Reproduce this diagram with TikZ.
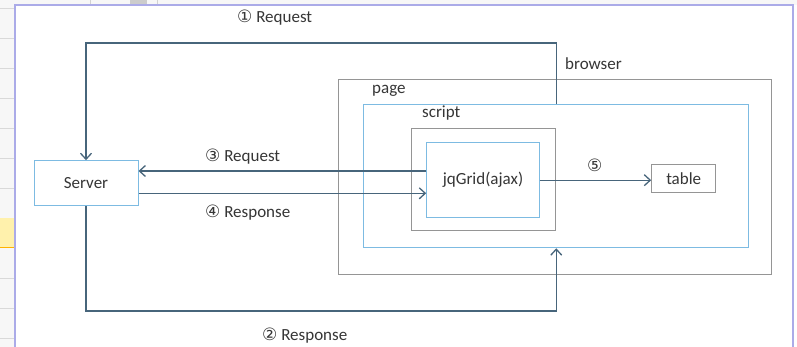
\documentclass[tikz,border=0pt]{standalone}
\usepackage{fontspec}
\setmainfont{Carlito}
\newfontfamily\circfont{DejaVu Sans}
\usetikzlibrary{arrows.meta}
\definecolor{flowcol}{HTML}{47657B}
\definecolor{bluecol}{HTML}{7DBBE2}
\definecolor{graycol}{HTML}{959595}
\definecolor{framecol}{HTML}{ABABE8}
\definecolor{textcol}{HTML}{363636}
\definecolor{sheetcol}{HTML}{F7F7F7}
\definecolor{cellcol}{HTML}{FFF1AC}
\newcommand{\stepnum}[1]{{\circfont\fontsize{17}{17}\selectfont #1}}

\begin{document}
\begin{tikzpicture}[x=1pt, y=-1pt, font=\fontsize{17}{20}\selectfont, text=textcol,
    bluebox/.style={draw=bluecol, line width=1pt, inner sep=0pt},
    graybox/.style={draw=graycol, line width=1pt, inner sep=0pt},
    flow/.style={draw=flowcol, line width=1.3pt, line join=miter, -{Straight Barb[length=6pt, width=11pt]}},
    tag/.style={inner sep=0pt, anchor=base west}]
    \useasboundingbox (0,0) rectangle (797,347);
    \fill[white] (0,0) rectangle (797,347);

    \fill[sheetcol] (0,0) rectangle (15,347);
    \fill[sheetcol] (15,0) rectangle (797,5);
    \fill[cellcol] (0,218) rectangle (15,248);
    \draw[orange!60!yellow, line width=1pt] (0,248) -- (15,248);
    \foreach \y in {8,38,...,188,278,308,338}
        \draw[gray!30, line width=0.8pt] (0,\y) -- (15,\y);
    \fill[gray!40] (130,0) rectangle (147,5);
    \draw[gray!35, line width=0.8pt] (90,0) -- (90,5);
    \draw[gray!35, line width=0.8pt] (157,0) -- (157,5);
    \draw[framecol, line width=1.4pt] (15,347) -- (15,5) -- (793,5) -- (793,347);

    \node[graybox, minimum width=432.7pt, minimum height=194pt] (browser) at (555.3,177) {};
    \node[bluebox, minimum width=385pt, minimum height=143.7pt] (page) at (555.5,175.9) {};
    \node[graybox, minimum width=144.7pt, minimum height=102pt] (script) at (483.4,180) {};
    \node[bluebox, minimum width=112.6pt, minimum height=75pt] (jqGrid) at (483,180.2) {jqGrid(ajax)};
    \node[graybox, minimum width=64pt, minimum height=28.4pt] (table) at (683.7,178.5) {table};
    \node[bluebox, minimum width=104pt, minimum height=45pt] (Server) at (86,183.2) {Server};

    \node[tag] (browserlabel) at (565,70) {browser};
    \node[tag] (pagelabel) at (372,94) {page};
    \node[tag] (scriptlabel) at (422,118) {script};

    \coordinate (topY) at (0,43);
    \coordinate (botY) at (0,311);
    \coordinate (reqY) at (0,171);
    \coordinate (resY) at (0,193.3);

    \draw[flow] (script.east |- page.north) -- (script.east |- topY) -- (Server.north |- topY) -- (Server.north);
    \draw[flow] (Server.south) -- (Server.south |- botY) -- (script.east |- botY) -- (script.east |- page.south);
    \draw[flow] (jqGrid.west |- reqY) -- (Server.east |- reqY);
    \draw[flow] (Server.east |- resY) -- (jqGrid.west |- resY);
    \draw[flow] (jqGrid.east) -- (jqGrid.east -| table.west);

    \node[tag] (step1) at (237,23) {\stepnum{①} Request};
    \node[tag] (step2) at (262,340) {\stepnum{②} Response};
    \node[tag] (step3) at (205,162) {\stepnum{③} Request};
    \node[tag] (step4) at (205,218) {\stepnum{④} Response};
    \node[tag] (step5) at (587,172) {\stepnum{⑤}};
\end{tikzpicture}
\end{document}
